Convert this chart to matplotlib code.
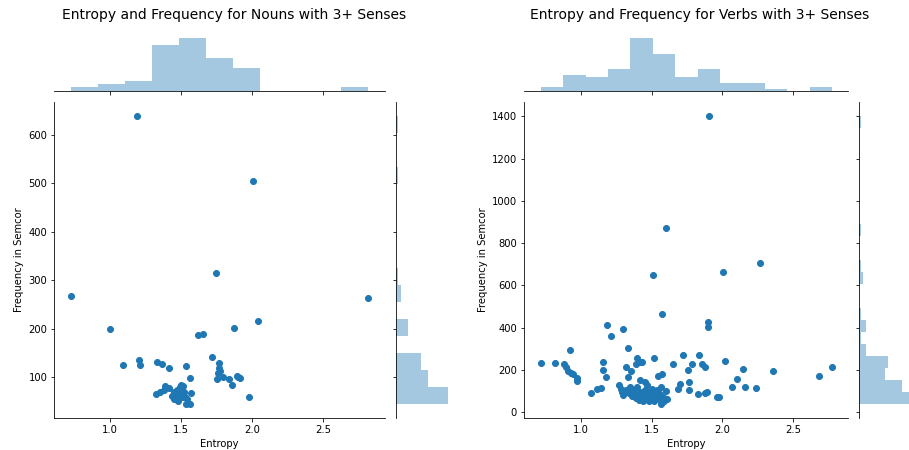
import matplotlib.pyplot as plt

# 名詞: エントロピーと頻度
noun_entropy = [1.188, 2.007, 1.744, 0.72, 2.819, 2.042, 1.0, 1.871, 1.616, 1.654,
                1.72, 1.767, 1.202, 1.209, 1.09, 1.327, 1.362, 1.414, 1.534, 1.562,
                1.774, 1.751, 1.793, 1.838, 1.892, 1.918, 1.86, 1.976, 1.572, 1.322,
                1.348, 1.388, 1.412, 1.381, 1.449, 1.494, 1.47, 1.447, 1.475, 1.506,
                1.529, 1.536, 1.565, 1.464, 1.49, 1.435,
                1.50, 1.52, 1.54, 1.51, 1.50, 1.77, 1.76, 1.90]
noun_freq = [638, 505, 314, 268, 263, 216, 199, 201, 187, 189,
             141, 129, 135, 126, 126, 131, 128, 119, 124, 99,
             112, 96, 100, 97, 102, 99, 83, 60, 68, 66,
             70, 82, 77, 74, 69, 79, 74, 55, 52, 60,
             59, 45, 45, 64, 59, 62,
             65, 70, 55, 82, 84, 118, 108, 100]

# 動詞: エントロピーと頻度
verb_entropy = [0.715, 0.818, 0.877, 0.894, 0.91, 0.927, 0.946, 0.969, 0.969, 0.922,
                1.068, 1.116, 1.142, 1.158, 1.158, 1.182, 1.18, 1.21, 1.297, 1.335,
                1.318, 1.33, 1.399, 1.417, 1.432, 1.389, 1.351, 1.601, 1.512, 1.571,
                1.519, 1.571, 1.542, 1.653, 1.719, 1.785, 1.755, 1.764, 1.764, 1.70,
                1.684, 1.903, 1.896, 1.896, 1.837, 1.854, 1.877, 1.83, 1.877, 1.894,
                1.96, 1.976, 2.002, 2.017, 2.106, 2.066, 2.269, 2.149, 2.158, 2.238,
                2.356, 2.682, 2.778,
                1.27, 1.28, 1.29, 1.30, 1.32, 1.34,
                1.35, 1.36, 1.37, 1.38, 1.39, 1.40, 1.41, 1.42, 1.42, 1.43, 1.44,
                1.45, 1.45, 1.46, 1.47, 1.47, 1.48, 1.48, 1.49, 1.50, 1.50, 1.40,
                1.51, 1.52, 1.53, 1.54, 1.55, 1.56, 1.57, 1.57, 1.58, 1.59, 1.60, 1.61]
verb_freq = [235, 235, 229, 216, 197, 188, 182, 161, 150, 295,
             90, 111, 115, 240, 200, 411, 167, 363, 392, 306,
             216, 166, 259, 240, 237, 229, 196, 872, 648, 463,
             259, 180, 172, 229, 269, 229, 200, 145, 106, 133,
             112, 1401, 425, 406, 273, 228, 216, 87, 93, 98,
             74, 73, 662, 245, 158, 120, 706, 205, 120, 115,
             196, 172, 215,
             130, 112, 94, 84, 106, 92,
             122, 78, 104, 88, 70, 118, 60, 96, 153, 80, 52,
             142, 108, 66, 88, 128, 56, 94, 74, 62, 112, 84,
             92, 54, 78, 108, 64, 88, 40, 118, 72, 54, 100, 62]

W, H = 909, 450
fig = plt.figure(figsize=(W / 72, H / 72), dpi=72)
color = '#1f77b4'


def box(left, top, width, height):
    # ピクセル位置 -> figure座標
    return [left / W, 1 - (top + height) / H, width / W, height / H]


def joint(x, y, left, right, xbins, ybins, xlim, title, title_x):
    ax = fig.add_axes(box(left, 101.7, right - left, 316.6))
    ax_top = fig.add_axes(box(left, 35.5, right - left, 55), sharex=ax)
    ax_side = fig.add_axes(box(right + 11, 101.7, 55, 316.6), sharey=ax)

    ax.scatter(x, y, color=color)
    ax_top.hist(x, bins=xbins, color=color, alpha=0.4)
    ax_side.hist(y, bins=ybins, orientation='horizontal', color=color, alpha=0.4)
    ax.set_xlim(*xlim)

    ax.set_xlabel('Entropy')
    ax.set_ylabel('Frequency in Semcor')
    for s in ['top', 'right']:
        ax.spines[s].set_visible(False)

    # 上のヒストグラム
    for s in ['top', 'right', 'left']:
        ax_top.spines[s].set_visible(False)
    ax_top.tick_params(labelbottom=False, left=False, labelleft=False)

    # 右のヒストグラム
    for s in ['top', 'right', 'bottom']:
        ax_side.spines[s].set_visible(False)
    ax_side.tick_params(labelleft=False, bottom=False, labelbottom=False)

    fig.text(title_x / W, 1 - 15 / H, title, ha='center', va='center', fontsize=13.9)


joint(noun_entropy, noun_freq, 54.3, 385, 11, 17, (0.605, 2.939),
      'Entropy and Frequency for Nouns with 3+ Senses', 233.7)
joint(verb_entropy, verb_freq, 524, 848.3, 13, 24, (0.597, 2.892),
      'Entropy and Frequency for Verbs with 3+ Senses', 699.8)

plt.savefig('out.png', dpi=72)
